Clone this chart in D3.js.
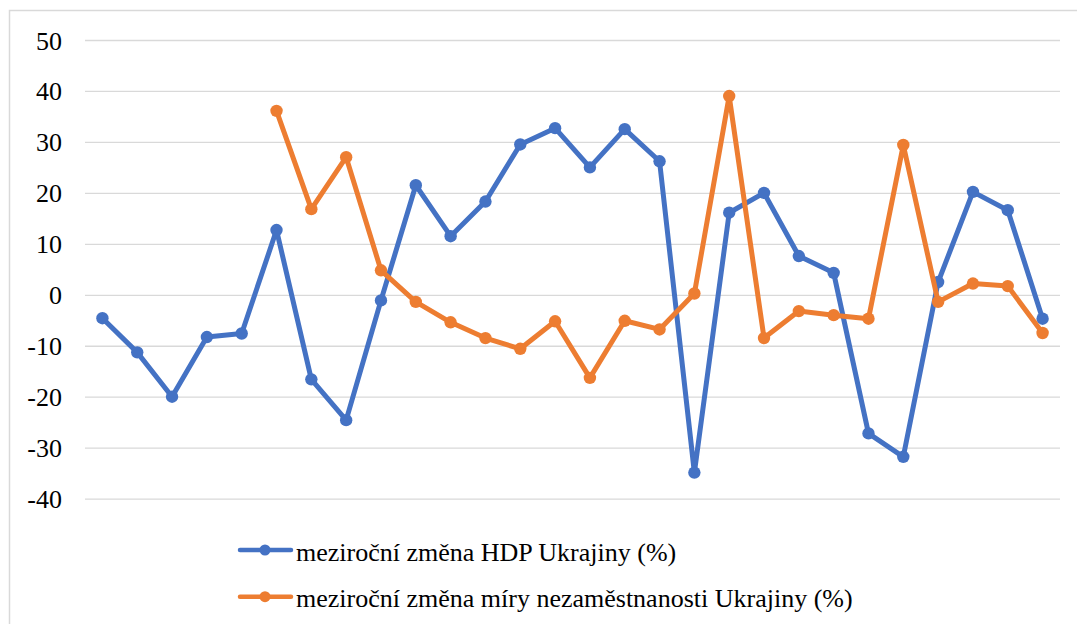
<!DOCTYPE html>
<html>
<head>
<meta charset="utf-8">
<script src="https://cdn.jsdelivr.net/npm/d3@7"></script>
<style>
  body { margin: 0; background: #fff; }
  #chart { position: relative; width: 1077px; height: 624px; overflow: hidden; }
  #chart svg { position: absolute; left: 0; top: 0; display: block; }
  .lbl {
    position: absolute;
    font-family: 'Liberation Serif', serif;
    font-size: 26px;
    line-height: 26px;
    color: #000;
    white-space: nowrap;
  }
</style>
</head>
<body>
<div id="chart">
  <svg></svg>
  <div class="lbl" id="fontwarm" style="left:-500px;top:-100px">&#160;</div>
</div>
<script>
// chart data
const categories = d3.range(1, 29).map(String);
const yTicks = [50, 40, 30, 20, 10, 0, -10, -20, -30, -40];
const hdpName = "meziroční změna HDP Ukrajiny (%)";
const hdpValues = [-4.6, -11.3, -20.0, -8.3, -7.6, 12.7, -16.6, -24.6, -1.1, 21.5,
  11.5, 18.3, 29.5, 32.7, 25.0, 32.5, 26.2, -34.9, 16.1, 20.0,
  7.6, 4.3, -27.2, -31.8, 2.5, 20.2, 16.6, -4.7];
const unempName = "meziroční změna míry nezaměstnanosti Ukrajiny (%)";
const unempValues = [null, null, null, null, null, 36.1, 16.8, 27.0, 4.8, -1.4,
  -5.4, -8.5, -10.6, -5.2, -16.3, -5.1, -6.8, 0.25, 39.0, -8.5,
  -3.2, -4.0, -4.7, 29.4, -1.4, 2.2, 1.7, -7.5];

const w = 1077;
const h = 624;
const margin = { top: 40, left: 85, right: 17 };
const plotBottom = 498.6;

const chart = d3.select("#chart");
const svg = chart.select("svg").attr("width", w).attr("height", h);

// chart area border
svg.append("rect")
  .attr("x", 9.5).attr("y", 10.5)
  .attr("width", 1080).attr("height", 640)
  .attr("fill", "none")
  .attr("stroke", "#d9d9d9")
  .attr("stroke-width", 1.5);

const xScale = d3.scaleBand()
  .domain(categories)
  .range([margin.left, w - margin.right]);

const yScale = d3.scaleLinear()
  .domain([-40, 50])
  .range([plotBottom, margin.top]);

// gridlines
svg.append("g")
  .attr("class", "grid")
  .attr("transform", `translate(${margin.left}, 0)`)
  .call(d3.axisLeft(yScale).tickValues(yTicks).tickSize(-(w - margin.right - margin.left)).tickFormat(""))
  .call(g => g.select(".domain").remove())
  .call(g => g.selectAll("line").attr("stroke", "#d9d9d9").attr("stroke-width", 1.3));

// y labels (plain hyphen for negatives)
chart.selectAll("div.ytick")
  .data(yTicks)
  .enter()
  .append("div")
  .attr("class", "lbl ytick")
  .style("left", "0px")
  .style("width", "62px")
  .style("text-align", "right")
  .style("top", d => `${yScale(d) - 13 + 1.5}px`)
  .text(d => String(d));

const xPos = (d, i) => xScale(categories[i]) + xScale.bandwidth() / 2;

function drawSeries(values, color) {
  const line = d3.line()
    .defined(d => d !== null)
    .x(xPos)
    .y(d => yScale(d));
  svg.append("path")
    .datum(values)
    .attr("fill", "none")
    .attr("stroke", color)
    .attr("stroke-width", 5)
    .attr("stroke-linejoin", "round")
    .attr("d", line);
  svg.append("g")
    .selectAll("circle")
    .data(values.map((v, i) => ({ v, i })).filter(d => d.v !== null))
    .enter()
    .append("circle")
    .attr("cx", d => xPos(d.v, d.i))
    .attr("cy", d => yScale(d.v))
    .attr("r", 6.2)
    .attr("fill", color);
}

drawSeries(hdpValues, "#4472c4");
drawSeries(unempValues, "#ed7d31");

// legend
const legendItems = [
  { name: hdpName, color: "#4472c4", y: 550, baseline: 561.7 },
  { name: unempName, color: "#ed7d31", y: 596.7, baseline: 608 }
];
const legend = svg.append("g");
legendItems.forEach(item => {
  legend.append("line")
    .attr("x1", 240).attr("x2", 291)
    .attr("y1", item.y).attr("y2", item.y)
    .attr("stroke", item.color)
    .attr("stroke-width", 4.5)
    .attr("stroke-linecap", "round");
  legend.append("circle")
    .attr("cx", 265).attr("cy", item.y).attr("r", 5.5)
    .attr("fill", item.color);
  chart.append("div")
    .attr("class", "lbl")
    .style("left", "296px")
    .style("top", `${item.baseline - 21.8}px`)
    .text(item.name);
});
</script>
</body>
</html>
